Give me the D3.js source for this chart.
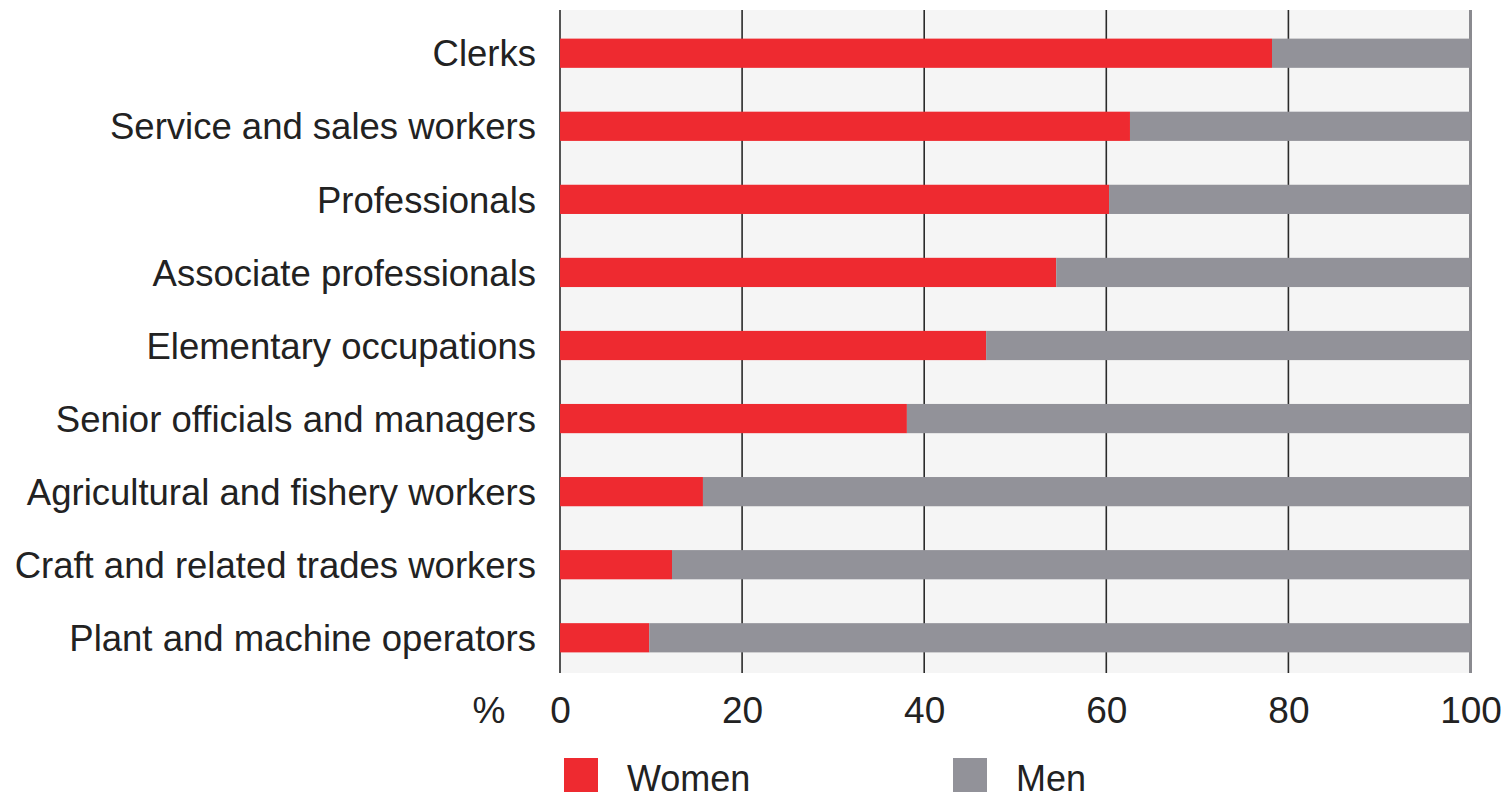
<!DOCTYPE html>
<html>
<head>
<meta charset="utf-8">
<script src="https://cdn.jsdelivr.net/npm/d3@7"></script>
<style>
  html, body { margin: 0; padding: 0; background: #ffffff; }
  svg { display: block; font-family: "Liberation Sans", Arial, Helvetica, sans-serif; }
</style>
</head>
<body>
<svg id="chart" width="1508" height="799"></svg>
<script>
// Share of women and men by occupation group (%)
const categories = [
  "Clerks",
  "Service and sales workers",
  "Professionals",
  "Associate professionals",
  "Elementary occupations",
  "Senior officials and managers",
  "Agricultural and fishery workers",
  "Craft and related trades workers",
  "Plant and machine operators"
];
const women = [78.2, 62.6, 60.3, 54.5, 46.8, 38.1, 15.7, 12.3, 9.8];
const men = women.map(w => 100 - w);
const tickValues = [0, 20, 40, 60, 80, 100];
const seriesNames = ["Women", "Men"];
const seriesColors = ["#ee2a30", "#929299"];

const svg = d3.select("#chart");

const plotLeft = 560, plotRight = 1470.5;
const plotTop = 10, plotBottom = 673;

const x = d3.scaleLinear().domain([0, 100]).range([plotLeft, plotRight]);
const y = d3.scaleBand().domain(categories).range([24, 667])
  .paddingInner(0.6).paddingOuter(0.2);

// plot background
svg.append("rect")
  .attr("x", x(0)).attr("y", plotTop)
  .attr("width", x(100) - x(0)).attr("height", plotBottom - plotTop)
  .attr("fill", "#f5f5f5");

// vertical gridlines
svg.append("g").selectAll("line")
  .data(tickValues)
  .join("line")
  .attr("x1", d => x(d)).attr("x2", d => x(d))
  .attr("y1", plotTop).attr("y2", plotBottom)
  .attr("stroke", d => d === 100 ? "#8a8a8f" : "#2a2a2a")
  .attr("stroke-width", d => d === 100 ? 3 : 1.6);

// stacked bars
const rows = categories.map((c, i) => ({ cat: c, women: women[i], men: men[i] }));
const stacked = d3.stack().keys(["women", "men"])(rows);

svg.append("g").selectAll("g")
  .data(stacked)
  .join("g")
  .attr("fill", (d, i) => seriesColors[i])
  .selectAll("rect")
  .data(d => d)
  .join("rect")
  .attr("x", d => x(d[0]))
  .attr("y", d => y(d.data.cat))
  .attr("width", d => x(d[1]) - x(d[0]))
  .attr("height", y.bandwidth());

// category labels
svg.append("g").selectAll("text")
  .data(categories)
  .join("text")
  .attr("x", 536)
  .attr("y", d => y(d) + y.bandwidth() / 2)
  .attr("dy", "0.36em")
  .attr("text-anchor", "end")
  .attr("font-size", 36.5)
  .attr("fill", "#222")
  .text(d => d);

// x axis tick labels
const xAxis = d3.axisBottom(x).tickValues(tickValues).tickSize(0).tickPadding(0);
const axisG = svg.append("g").attr("transform", `translate(0, ${plotBottom})`).call(xAxis);
axisG.select(".domain").remove();
axisG.selectAll("text")
  .attr("y", 50)
  .attr("dy", 0)
  .attr("font-size", 37)
  .attr("font-family", "'Liberation Sans', Arial, sans-serif")
  .attr("fill", "#222");

svg.append("text")
  .attr("x", 489).attr("y", 723)
  .attr("text-anchor", "middle")
  .attr("font-size", 37)
  .attr("fill", "#222")
  .text("%");

// legend
const legendX = [564, 953];
const legend = svg.append("g").selectAll("g")
  .data(seriesNames)
  .join("g")
  .attr("transform", (d, i) => `translate(${legendX[i]}, 758)`);
legend.append("rect")
  .attr("width", 34).attr("height", 34)
  .attr("fill", (d, i) => seriesColors[i]);
legend.append("text")
  .attr("x", 63).attr("y", 33)
  .attr("font-size", 36)
  .attr("fill", "#222")
  .text(d => d);
</script>
</body>
</html>
